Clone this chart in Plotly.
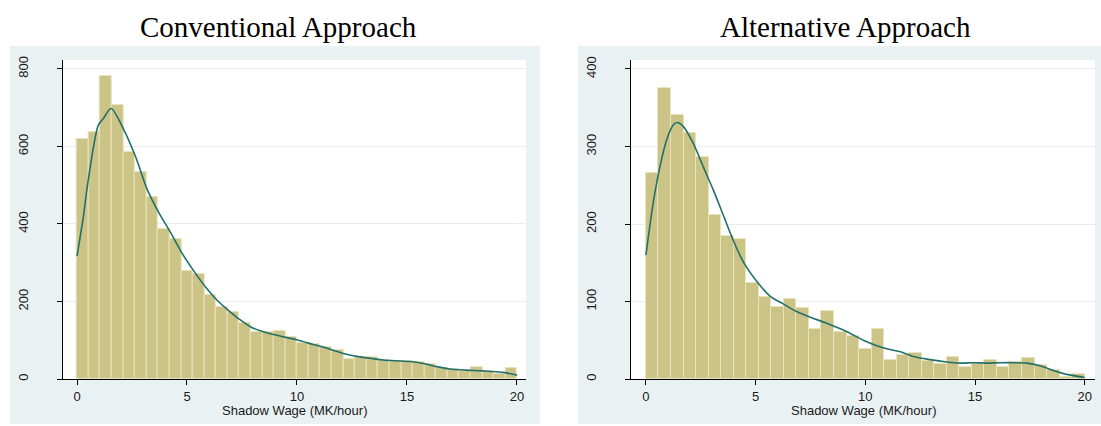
import plotly.graph_objects as go

W, H = 1101, 426

# ---------------- data ----------------
titles = ["Conventional Approach", "Alternative Approach"]
x_title = "Shadow Wage (MK/hour)"
bin_range = [0, 20]

conv_counts = [618, 637, 783, 706, 585, 534, 470, 387, 362, 279,
               270, 217, 187, 172, 144, 120, 120, 123, 108, 94,
               90, 82, 75, 52, 58, 57, 49, 46, 46, 45,
               40, 29, 26, 21, 30, 21, 14, 28]
alt_counts = [266, 375, 341, 317, 286, 211, 185, 181, 124, 106,
              93, 103, 91, 65, 88, 61, 55, 39, 64, 25,
              31, 34, 23, 20, 28, 16, 20, 24, 16, 22,
              27, 18, 12, 3, 6]

conv_kde_x = [0, 0.29, 0.51, 0.97, 1.2, 1.55, 2.13, 2.66, 3.2, 3.73, 4.23, 4.78,
              5.33, 5.89, 6.39, 6.95, 7.41, 7.94, 8.47, 9.23, 9.98, 10.74, 11.5,
              12.1, 12.86, 13.5, 13.92, 15.14, 15.74, 16.35, 16.95, 17.71,
              18.47, 19.38, 20.0]
conv_kde_y = [317, 419, 513, 655, 672, 698, 643, 574, 488, 428, 380, 324,
              277, 234, 202, 174, 153, 133, 122, 111, 101, 89, 77,
              66, 57, 52, 49, 45, 40, 32, 26, 23,
              21, 17, 10]

alt_kde_x = [0, 0.33, 0.64, 0.94, 1.25, 1.43, 1.70, 2.16, 2.61, 3.07, 3.52, 3.98,
             4.44, 5.05, 5.65, 6.26, 6.87, 7.55, 8.15, 8.75, 9.30, 9.91, 10.52,
             11.13, 11.73, 12.19, 12.95, 13.71, 14.32, 14.93, 15.54, 16.14,
             16.75, 17.36, 17.97, 18.57, 19.18, 20.0]
alt_kde_y = [160, 227, 274, 308, 328, 331, 326, 304, 274, 244, 212, 179,
             151, 126, 107, 97, 87, 79, 73, 66, 59, 50, 43,
             38, 34, 29, 25, 22, 20.5, 21, 20.5, 21,
             21, 20.5, 17, 11, 6, 2]

conv_yticks = [0, 200, 400, 600, 800]
alt_yticks = [0, 100, 200, 300, 400]
xticks = [0, 5, 10, 15, 20]

# ---------------- style ----------------
BAR_FILL = "rgb(204,196,134)"
BAR_LINE = "rgb(232,227,186)"
KDE_COL = "#22706b"
PANEL_BG = "#e9f1f3"
GRID = "#e6eef0"
TICK_FONT = dict(family="Liberation Sans, Arial, sans-serif", size=13, color="#1a1a1a")


def px_x(p):
    return p / W


def px_y(p):
    return 1 - p / H


fig = go.Figure()

panels = [
    dict(counts=conv_counts, kx=conv_kde_x, ky=conv_kde_y, yticks=conv_yticks,
         xdom=(62.7, 526), xrange=[-0.65, 20.41], yrange=[0, 823],
         bg=(10, 540), title_x=278, xa="x", ya="y"),
    dict(counts=alt_counts, kx=alt_kde_x, ky=alt_kde_y, yticks=alt_yticks,
         xdom=(631, 1095), xrange=[-0.68, 20.47], yrange=[0, 411.6],
         bg=(578, 1101), title_x=845, xa="x2", ya="y2"),
]

plot_top, plot_bot = 60, 379
shapes = []
annotations = []

for i, p in enumerate(panels):
    n = len(p["counts"])
    bw = (bin_range[1] - bin_range[0]) / n
    centers = [bin_range[0] + (k + 0.5) * bw for k in range(n)]
    fig.add_trace(go.Bar(x=centers, y=p["counts"], width=bw,
                         marker=dict(color=BAR_FILL, line=dict(color=BAR_LINE, width=1)),
                         xaxis=p["xa"], yaxis=p["ya"], showlegend=False, hoverinfo="skip"))
    fig.add_trace(go.Scatter(x=p["kx"], y=p["ky"], mode="lines",
                             line=dict(color=KDE_COL, width=1.6, shape="spline", smoothing=0.8),
                             xaxis=p["xa"], yaxis=p["ya"], showlegend=False, hoverinfo="skip"))

    suffix = "" if i == 0 else "2"
    fig.update_layout(**{
        "xaxis" + suffix: dict(
            domain=[px_x(p["xdom"][0]), px_x(p["xdom"][1])],
            range=p["xrange"], anchor="y" + suffix, automargin=False,
            tickmode="array", tickvals=xticks, ticktext=[str(t) for t in xticks],
            ticks="outside", ticklen=5, tickwidth=1, tickcolor="#000",
            showline=True, linecolor="#000", linewidth=1,
            showgrid=False, zeroline=False, tickfont=TICK_FONT,
            fixedrange=True,
        ),
        "yaxis" + suffix: dict(
            domain=[px_y(plot_bot), px_y(plot_top)],
            range=p["yrange"], anchor="x" + suffix, automargin=False,
            tickmode="array", tickvals=p["yticks"], ticktext=[str(t) for t in p["yticks"]],
            ticks="outside", ticklen=5, tickwidth=1, tickcolor="#000",
            tickangle=-90, ticklabelstandoff=24,
            showline=True, linecolor="#000", linewidth=1,
            showgrid=True, gridcolor=GRID, gridwidth=1, zeroline=False,
            tickfont=TICK_FONT, fixedrange=True,
        ),
    })

    shapes.append(dict(type="rect", xref="paper", yref="paper",
                       x0=px_x(p["bg"][0]), x1=px_x(p["bg"][1]),
                       y0=px_y(424), y1=px_y(46),
                       fillcolor=PANEL_BG, line=dict(width=0), layer="below"))
    shapes.append(dict(type="rect", xref="paper", yref="paper",
                       x0=px_x(p["xdom"][0]), x1=px_x(p["xdom"][1]),
                       y0=px_y(plot_bot), y1=px_y(plot_top),
                       fillcolor="white", line=dict(width=0), layer="below"))

    annotations.append(dict(text=titles[i], xref="paper", yref="paper",
                            x=px_x(p["title_x"]), y=px_y(27), xanchor="center", yanchor="middle",
                            showarrow=False,
                            font=dict(family="Liberation Serif, Times New Roman, serif", size=29, color="#000")))
    annotations.append(dict(text=x_title, xref="paper", yref="paper",
                            x=px_x((p["xdom"][0] + p["xdom"][1]) / 2), y=px_y(410),
                            xanchor="center", yanchor="middle", showarrow=False,
                            font=TICK_FONT))

fig.update_layout(
    width=W, height=H,
    margin=dict(l=0, r=0, t=0, b=0, autoexpand=False),
    paper_bgcolor="white", plot_bgcolor="white",
    bargap=0, shapes=shapes, annotations=annotations,
)

fig.write_html("out.html", config={"displayModeBar": False},
               post_script="document.body.style.margin='0';document.body.style.padding='0';"
                           "document.body.style.overflow='hidden';")
